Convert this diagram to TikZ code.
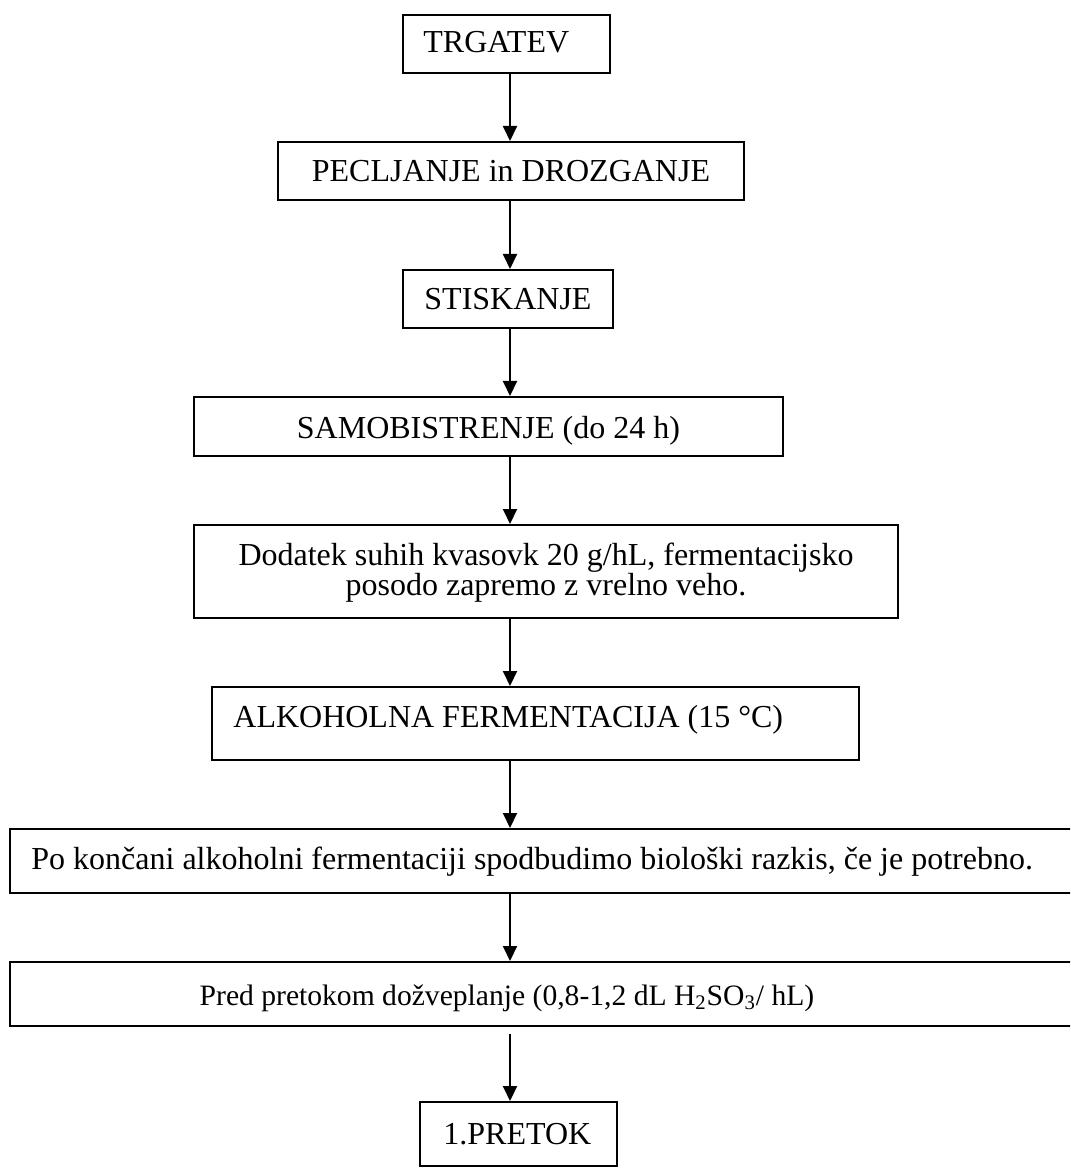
\documentclass[tikz,border=0pt]{standalone}
\usepackage{fontspec}
\usepackage{graphicx}
\setmainfont{Liberation Serif}
\usetikzlibrary{arrows.meta}
\begin{document}
\begin{tikzpicture}[x=0.5pt,y=-0.5pt,
  box/.style={draw,line width=1pt,inner sep=0pt},
  txt/.style={inner sep=0pt,font=\fontsize{16pt}{18pt}\selectfont},
  arr/.style={line width=1pt,-{Triangle[length=7.5pt,width=7pt]}}]
\useasboundingbox (0,0) rectangle (1070,1170);
\clip (0,0) rectangle (1070,1170);
\coordinate (ax) at (510,0);
% boxes
\node[box,minimum width=103.5pt,minimum height=29pt] (b1) at (506.5,44) {};
\node[box,minimum width=233pt,minimum height=29pt] (b2) at (511,171) {};
\node[box,minimum width=105pt,minimum height=29pt] (b3) at (508,299) {};
\node[box,minimum width=294.5pt,minimum height=29.5pt] (b4) at (488.5,426.5) {};
\node[box,minimum width=352pt,minimum height=46.5pt] (b5) at (546,571.5) {};
\node[box,minimum width=323.5pt,minimum height=36.5pt] (b6) at (535.5,723.5) {};
\node[box,minimum width=535pt,minimum height=32pt] (b7) at (545,861) {};
\node[box,minimum width=535pt,minimum height=32pt] (b8) at (545,994) {};
\node[box,minimum width=98.5pt,minimum height=32pt] (b9) at (518.5,1134) {};
% texts
\node[txt,anchor=base west] (t1) at (423,53) {TRGATEV};
\node[txt,anchor=base] (t2) at (511,182) {PECLJANJE in DROZGANJE};
\node[txt,anchor=base west] (t3) at (424,310) {STISKANJE};
\node[txt,anchor=base] (t4) at (488.5,438) {SAMOBISTRENJE (do 24 h)};
\node[txt,anchor=base] (t5a) at (546,565) {Dodatek suhih kvasovk 20 g/hL, fermentacijsko};
\node[txt,anchor=base] (t5b) at (546,595) {posodo zapremo z vrelno veho.};
\node[txt,anchor=base west] (t6) at (233,727) {ALKOHOLNA FERMENTACIJA (15 °C)};
\node[txt,anchor=base west] (t7) at (31,869) {Po končani alkoholni fermentaciji spodbudimo biološki razkis, če je potrebno.};
\node[txt,anchor=base,font=\fontsize{14.8pt}{17pt}\selectfont] (t8) at (507,1005) {Pred pretokom dožveplanje (0,8-1,2 dL H\textsubscript{2}SO\textsubscript{3}/ hL)};
\node[txt,anchor=base west] (t9) at (443,1144) {1.PRETOK};
% connectors
\draw[arr] (b1.south -| ax) -- (b2.north -| ax);
\draw[arr] (b2.south -| ax) -- (b3.north -| ax);
\draw[arr] (b3.south -| ax) -- (b4.north -| ax);
\draw[arr] (b4.south -| ax) -- (b5.north -| ax);
\draw[arr] (b5.south -| ax) -- (b6.north -| ax);
\draw[arr] (b6.south -| ax) -- (b7.north -| ax);
\draw[arr] (b7.south -| ax) -- (b8.north -| ax);
\draw[arr,shorten <=3.5pt] (b8.south -| ax) -- (b9.north -| ax);
\end{tikzpicture}
\end{document}
